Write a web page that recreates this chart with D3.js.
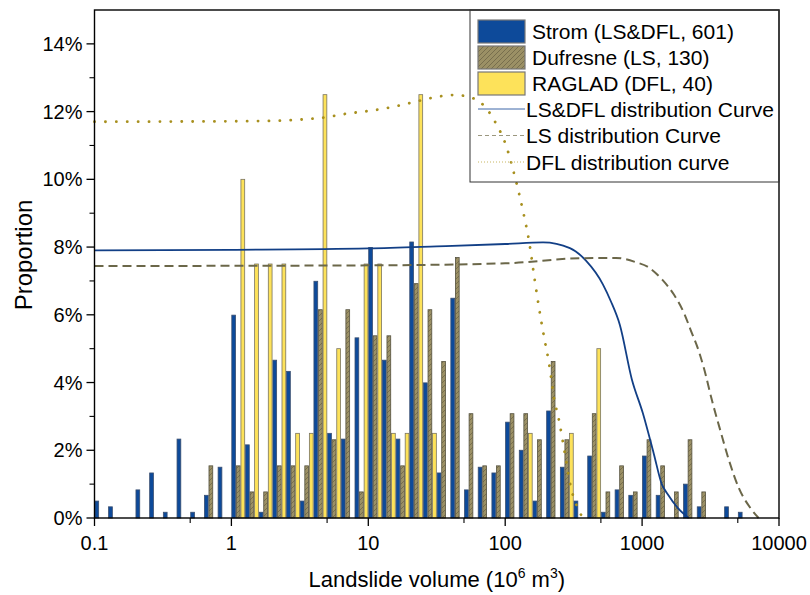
<!DOCTYPE html>
<html><head><meta charset="utf-8">
<script src="https://cdn.jsdelivr.net/npm/d3@7"></script>
<style>body{margin:0;background:#fff}svg{display:block}text{font-family:"Liberation Sans",Arial,Helvetica,sans-serif;fill:#000}</style>
</head><body><svg id="c" width="810" height="595"></svg>
<script>
// Bin lower edges (10^6 m^3), 0.1-decade log bins from 0.1 to 10000
const binEdges = [0.1,0.1259,0.1585,0.1995,0.2512,0.3162,0.3981,0.5012,0.631,0.7943,
 1,1.259,1.585,1.995,2.512,3.162,3.981,5.012,6.31,7.943,
 10,12.59,15.85,19.95,25.12,31.62,39.81,50.12,63.1,79.43,
 100,125.9,158.5,199.5,251.2,316.2,398.1,501.2,631,794.3,
 1000,1259,1585,1995,2512,3162,3981,5012,6310,7943,10000];
// Proportions (%) per bin
const strom = [0.50,0.33,0,0.83,1.33,0.17,2.33,0.17,0.67,1.50,
 5.99,2.16,0.17,4.66,4.33,0.50,6.99,2.50,2.33,5.32,
 7.99,4.66,2.33,8.15,3.99,1.33,6.49,0.83,1.50,1.33,
 2.83,2.00,0.50,3.16,1.50,0.50,1.83,0.17,0.83,0.67,
 1.83,0.67,0,1.00,0.33,0,0.33,0.17,0,0];
const dufresne = [0,0,0,0,0,0,0,0,1.54,0,
 1.54,0.77,0.77,1.54,1.54,1.54,6.15,2.31,6.15,0.77,
 5.38,5.38,1.54,6.92,6.15,4.62,7.69,3.08,1.54,1.54,
 3.08,3.08,2.31,4.62,2.31,0,3.08,0.77,1.54,0.77,
 2.31,1.54,0.77,2.31,0.77,0,0,0,0,0];
const raglad = [0,0,0,0,0,0,0,0,0,0,
 10,7.5,7.5,7.5,2.5,2.5,12.5,5,0,7.5,
 7.5,2.5,2.5,12.5,2.5,0,0,0,0,0,
 0,2.5,0,0,2.5,0,5,0,0,0,
 0,0,0,0,0,0,0,0,0,0];
// Distribution curves: [volume, %]
const curveLSDFL = [[0.1,7.9],[1,7.92],[10,7.96],[31.6,8.02],[100,8.09],[189,8.14],[297,7.97],[389,7.6],[517,6.9],[591,6.4],[688,5.7],[841,4.1],[1012,3.1],[1217,1.9],[1392,1.0],[1539,0.7],[1820,0.3],[2188,0.0]];
const curveLS = [[0.1,7.44],[10,7.46],[100,7.52],[350,7.67],[643,7.68],[904,7.55],[1095,7.42],[1408,7.03],[1711,6.59],[2024,6.05],[2264,5.55],[2603,4.91],[2830,4.42],[3259,3.43],[3749,2.55],[4306,1.71],[5093,0.88],[6194,0.29],[7096,0.0]];
const curveDFL = [[0.1,11.7],[1.52,11.72],[4.17,11.8],[7.28,11.95],[11.4,12.05],[16.9,12.18],[23.6,12.32],[28.7,12.4],[42.4,12.49],[57.7,12.4],[70.2,12.17],[85.4,11.66],[101,11.02],[119,10.0],[136,9.0],[149,8.2],[162,7.2],[180,6.0],[194,5.26],[209,4.57],[227,3.55],[247,2.89],[273,1.9],[302,0.9],[334,0.35],[363,0.05]];
const xTicks = [0.1,1,10,100,1000,10000];
const xTickLabels = ["0.1","1","10","100","1000","10000"];
const yTicks = [0,2,4,6,8,10,12,14];
const yTickLabels = ["0%","2%","4%","6%","8%","10%","12%","14%"];
const legendBars = ["Strom (LS&DFL, 601)","Dufresne (LS, 130)","RAGLAD (DFL, 40)"];
const legendLines = ["LS&DFL distribution Curve","LS distribution Curve","DFL distribution curve"];

const L=94.5,R=779,T=10,B=518;
const svg=d3.select("#c");
const x=d3.scaleLog().domain([0.1,10000]).range([L,R]);
const y=d3.scaleLinear().domain([0,15]).range([B,T]);

const cBlue="#0d4a9a", cHatch="#9b9065", cYellow="#fde25a";
const defs=svg.append("defs");
const pat=defs.append("pattern").attr("id","hatch").attr("patternUnits","userSpaceOnUse").attr("width",5).attr("height",5);
pat.append("rect").attr("width",5).attr("height",5).attr("fill",cHatch);
pat.append("path").attr("d","M-1,1 l2,-2 M0,5 l5,-5 M4,6 l2,-2").attr("stroke","#6d6646").attr("stroke-width",0.8);

// bars
const series=[{v:strom,f:cBlue,s:"#3a4f70"},{v:dufresne,f:"url(#hatch)",s:"#55523f"},{v:raglad,f:cYellow,s:"#7a7560"}];
series.forEach((se,i)=>{
  svg.append("g").selectAll("rect").data(se.v.map((v,k)=>({v,k})).filter(d=>d.v>0)).join("rect")
    .attr("x",d=>{const a=x(binEdges[d.k]),b=x(binEdges[d.k+1]);const w=(b-a)/3;return a+i*w+0.4;})
    .attr("width",d=>{const a=x(binEdges[d.k]),b=x(binEdges[d.k+1]);return (b-a)/3-0.8;})
    .attr("y",d=>y(d.v)).attr("height",d=>B-y(d.v))
    .attr("fill",se.f).attr("stroke",se.s).attr("stroke-width",0.8);
});

// curves
const line=d3.line().x(d=>x(d[0])).y(d=>y(d[1])).curve(d3.curveMonotoneX);
svg.append("path").datum(curveLSDFL).attr("d",line).attr("fill","none").attr("stroke","#123f86").attr("stroke-width",1.8);
svg.append("path").datum(curveLS).attr("d",line).attr("fill","none").attr("stroke","#6b6749").attr("stroke-width",2).attr("stroke-dasharray","9,5");
svg.append("path").datum(curveDFL).attr("d",line).attr("fill","none").attr("stroke","#a8901f").attr("stroke-width",2.8).attr("stroke-linecap","round").attr("stroke-dasharray","0.1,10.8");

// axes
const gx=svg.append("g").attr("transform",`translate(0,${B})`);
const minorX=[0.5,5,50,500,5000];
gx.selectAll("line.maj").data(xTicks).join("line").attr("x1",d=>x(d)).attr("x2",d=>x(d)).attr("y1",0).attr("y2",8).attr("stroke","#000").attr("stroke-width",1.3);
gx.selectAll("line.min").data(minorX).join("line").attr("x1",d=>x(d)).attr("x2",d=>x(d)).attr("y1",0).attr("y2",5).attr("stroke","#000").attr("stroke-width",1.1);
gx.selectAll("text").data(xTicks).join("text").attr("x",d=>x(d)).attr("y",32).attr("text-anchor","middle").attr("font-size",20).text((d,i)=>xTickLabels[i]);

const gy=svg.append("g").attr("transform",`translate(${L},0)`);
gy.selectAll("line.maj").data(yTicks).join("line").attr("x1",-8).attr("x2",0).attr("y1",d=>y(d)).attr("y2",d=>y(d)).attr("stroke","#000").attr("stroke-width",1.3);
gy.selectAll("line.min").data([1,3,5,7,9,11,13]).join("line").attr("x1",-5).attr("x2",0).attr("y1",d=>y(d)).attr("y2",d=>y(d)).attr("stroke","#000").attr("stroke-width",1.1);
gy.selectAll("text").data(yTicks).join("text").attr("x",-12).attr("y",d=>y(d)+7).attr("text-anchor","end").attr("font-size",20).text((d,i)=>yTickLabels[i]);

svg.append("rect").attr("x",L).attr("y",T).attr("width",R-L).attr("height",B-T).attr("fill","none").attr("stroke","#000").attr("stroke-width",1.4);

// titles
const xt=svg.append("text").attr("x",(L+R)/2).attr("y",587).attr("text-anchor","middle").attr("font-size",22);
xt.append("tspan").text("Landslide volume (10");
xt.append("tspan").attr("font-size",14).attr("dy",-9).text("6");
xt.append("tspan").attr("dy",9).text(" m");
xt.append("tspan").attr("font-size",14).attr("dy",-9).text("3");
xt.append("tspan").attr("dy",9).text(")");
svg.append("text").attr("transform","translate(32,255) rotate(-90)").attr("text-anchor","middle").attr("font-size",24).text("Proportion");

// legend
const lg=svg.append("g");
lg.append("rect").attr("x",470).attr("y",T).attr("width",R-470).attr("height",172).attr("fill","none").attr("stroke","#333").attr("stroke-width",1);
const sw=[{f:cBlue},{f:"url(#hatch)"},{f:cYellow}];
legendBars.forEach((t,i)=>{
  const cy=31+i*26;
  lg.append("rect").attr("x",478).attr("y",cy-11).attr("width",47).attr("height",23).attr("fill",sw[i].f).attr("stroke","#777").attr("stroke-width",1.2);
  lg.append("text").attr("x",532).attr("y",cy+7.5).attr("font-size",21).text(t);
});
const ls=[{c:"#3d66a8",d:null},{c:"#9b977f",d:"4,3"},{c:"#c8b660",d:"1,2"}];
legendLines.forEach((t,i)=>{
  const cy=109+i*26.5;
  lg.append("line").attr("x1",478).attr("x2",525).attr("y1",cy).attr("y2",cy).attr("stroke",ls[i].c).attr("stroke-width",1).attr("stroke-dasharray",ls[i].d);
  lg.append("text").attr("x",526).attr("y",cy+7.5).attr("font-size",21).text(t);
});
</script></body></html>
